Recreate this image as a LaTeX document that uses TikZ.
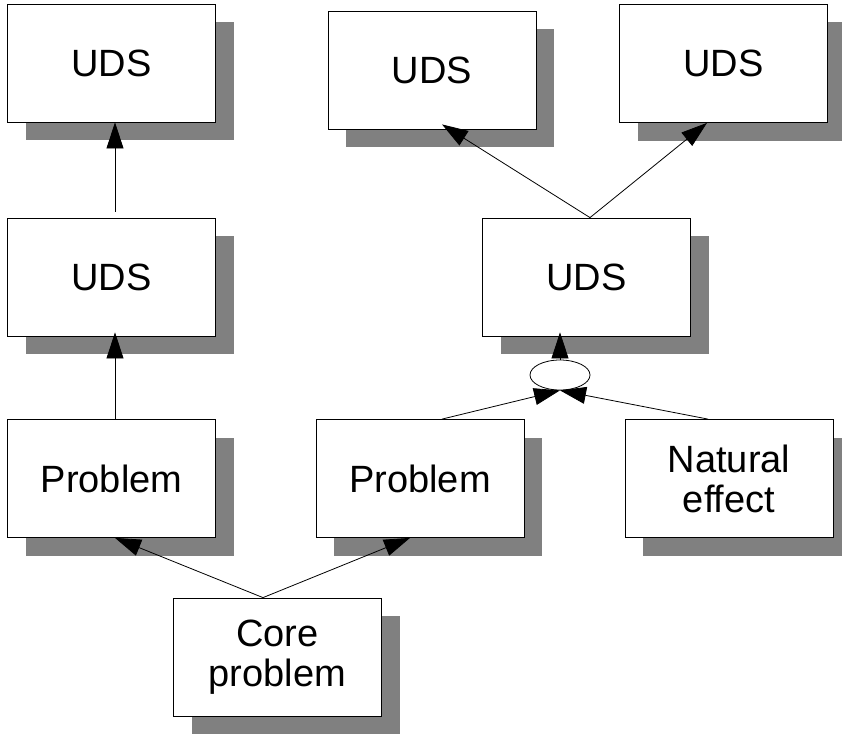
\documentclass[tikz,border=0pt]{standalone}
\usepackage{fontspec}
\setmainfont{Liberation Sans}
\usetikzlibrary{arrows.meta,shadows,shapes.geometric}

\begin{document}
\begin{tikzpicture}[x=1pt, y=-1pt, line width=0.8pt,
  box/.style={draw, fill=white, minimum width=208pt, minimum height=118pt, inner sep=0pt,
    align=center, font=\fontsize{38}{40}\selectfont,
    drop shadow={shadow xshift=18pt, shadow yshift=-18pt, fill=black!50, opacity=1}},
  link/.style={-{Triangle[length=26pt, width=17pt]}}]
\useasboundingbox (0,0) rectangle (842,733);

\node[box] (udsA) at (111.5,63) {UDS};
\node[box] (udsB) at (432,70) {UDS};
\node[box] (udsC) at (723.5,63.5) {UDS};
\node[box] (udsD) at (111.5,277) {UDS};
\node[box] (udsE) at (586.5,277) {UDS};
\node[box] (probA) at (111.5,478.5) {Problem};
\node[box] (probB) at (420,478.5) {Problem};
\node[box] (nat) at (729,478.5) {Natural\\effect};
\node[box] (core) at (277.5,657) {Core\\problem};
\node[draw, ellipse, fill=white, minimum width=60pt, minimum height=30pt, inner sep=0pt] (oval) at (560,375) {};

\draw[link] ([xshift=3.5pt,yshift=6pt]udsD.north) -- ([xshift=3.5pt]udsA.south);
\draw[link] ([xshift=3.5pt]probA.north) -- ([xshift=3.5pt,yshift=4pt]udsD.south);
\draw[link] ([xshift=3.5pt]udsE.north) -- ([xshift=10pt,yshift=5pt]udsB.south);
\draw[link] ([xshift=3.5pt]udsE.north) -- ([xshift=-16.5pt]udsC.south);
\draw[link] (oval.north) -- ([xshift=-26.5pt,yshift=4pt]udsE.south);
\draw[link] ([xshift=22pt]probB.north) -- (oval.south);
\draw[link] ([xshift=-21pt]nat.north) -- (oval.south);
\draw[link] ([xshift=-14.5pt]core.north) -- ([xshift=3.5pt]probA.south);
\draw[link] ([xshift=-14.5pt]core.north) -- ([xshift=-10pt]probB.south);
\end{tikzpicture}
\end{document}
